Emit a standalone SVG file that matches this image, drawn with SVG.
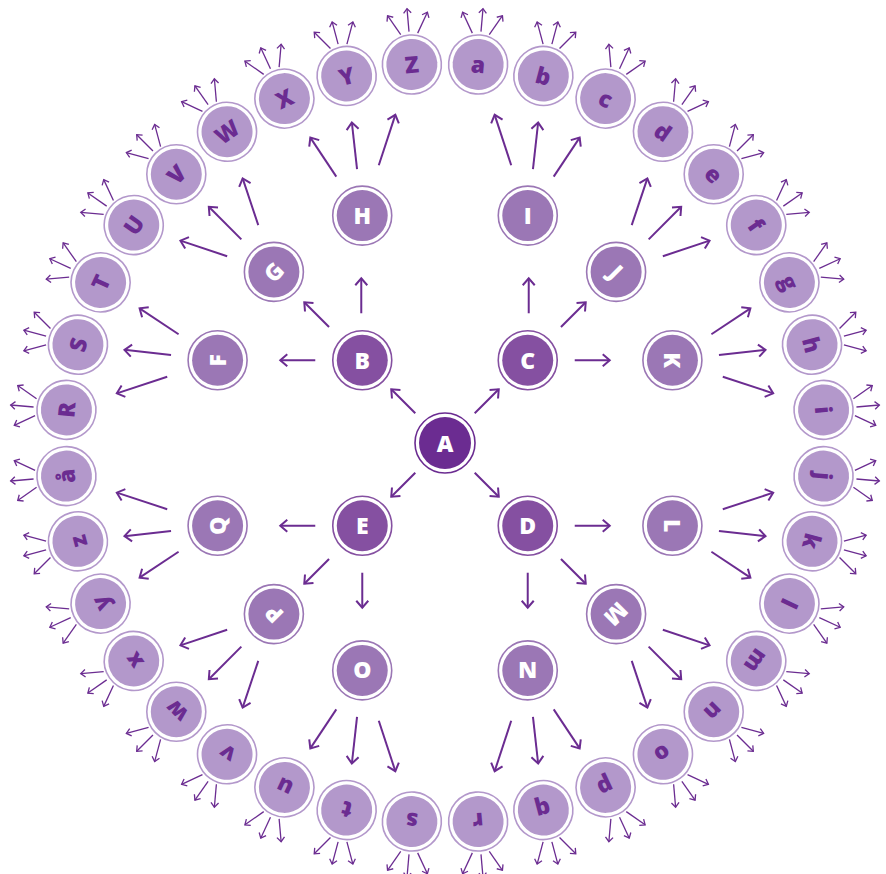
<svg xmlns="http://www.w3.org/2000/svg" xmlns:xlink="http://www.w3.org/1999/xlink" width="886" height="874" viewBox="0 0 886 874">
<style>
.ring{fill:#fff;stroke-width:1.6}
.n0 .ring{stroke:#6b2c91}.n0 .core{fill:#6b2c91}
.n1 .ring{stroke:#8550a1}.n1 .core{fill:#8550a1}
.n2 .ring{stroke:#9b77b5}.n2 .core{fill:#9b77b5}
.n3 .ring{stroke:#b398cb}.n3 .core{fill:#b398cb}
text{font-family:"Open Sans","Liberation Sans",sans-serif;font-weight:800;font-size:23px;text-anchor:middle;fill:#fff}
.n3 text{fill:#6b2c91}
.e{stroke:#6b2c91;stroke-width:2;fill:none;marker-end:url(#ah)}
.s{stroke:#6b2c91;stroke-width:1.3;fill:none;marker-end:url(#ahs)}
</style>
<defs>
<marker id="ah" markerUnits="userSpaceOnUse" viewBox="-10 -8 13 16" markerWidth="13" markerHeight="16" refX="0" refY="0" orient="auto" style="overflow:visible"><path d="M-7,-6 L0,0 L-7,6" fill="none" stroke="#6b2c91" stroke-width="2"/></marker>
<marker id="ahs" markerUnits="userSpaceOnUse" viewBox="-6 -5 8 10" markerWidth="8" markerHeight="10" refX="0" refY="0" orient="auto" style="overflow:visible"><path d="M-4.5,-3.8 L0,0 L-4.5,3.8" fill="none" stroke="#6b2c91" stroke-width="1.3"/></marker>
<g id="fan"><line class="s" x1="33" y1="0" x2="56" y2="0"/><line class="s" x1="30.72" y1="-8.5" x2="50.64" y2="-20"/><line class="s" x1="30.72" y1="8.5" x2="50.64" y2="20"/></g>
</defs>
<g id="connectors">
<line class="e" x1="415.30" y1="413.30" x2="391.26" y2="389.26"/>
<line class="e" x1="474.70" y1="413.30" x2="498.74" y2="389.26"/>
<line class="e" x1="474.70" y1="472.70" x2="498.74" y2="496.74"/>
<line class="e" x1="415.30" y1="472.70" x2="391.26" y2="496.74"/>
<line class="e" x1="361.27" y1="313.27" x2="361.27" y2="278.27"/>
<line class="e" x1="329.04" y1="327.04" x2="304.29" y2="302.29"/>
<line class="e" x1="315.27" y1="360.27" x2="280.27" y2="360.27"/>
<line class="e" x1="528.73" y1="313.27" x2="528.73" y2="278.27"/>
<line class="e" x1="560.96" y1="327.04" x2="585.71" y2="302.29"/>
<line class="e" x1="574.73" y1="360.27" x2="609.73" y2="360.27"/>
<line class="e" x1="574.73" y1="525.73" x2="609.73" y2="525.73"/>
<line class="e" x1="560.96" y1="558.96" x2="585.71" y2="583.71"/>
<line class="e" x1="527.73" y1="572.73" x2="527.73" y2="607.73"/>
<line class="e" x1="362.27" y1="572.73" x2="362.27" y2="607.73"/>
<line class="e" x1="329.04" y1="558.96" x2="304.29" y2="583.71"/>
<line class="e" x1="315.27" y1="525.73" x2="280.27" y2="525.73"/>
<line class="e" x1="711.41" y1="334.29" x2="750.40" y2="308.34"/>
<line class="e" x1="718.96" y1="355.04" x2="765.51" y2="349.84"/>
<line class="e" x1="722.79" y1="376.78" x2="773.17" y2="393.33"/>
<line class="e" x1="631.73" y1="225.16" x2="647.35" y2="178.44"/>
<line class="e" x1="648.65" y1="239.35" x2="681.18" y2="206.82"/>
<line class="e" x1="662.84" y1="256.27" x2="709.56" y2="240.66"/>
<line class="e" x1="511.22" y1="165.21" x2="494.67" y2="114.83"/>
<line class="e" x1="532.96" y1="169.04" x2="538.15" y2="122.49"/>
<line class="e" x1="553.71" y1="176.59" x2="579.65" y2="137.59"/>
<line class="e" x1="336.29" y1="176.59" x2="310.35" y2="137.59"/>
<line class="e" x1="357.04" y1="169.04" x2="351.85" y2="122.49"/>
<line class="e" x1="378.78" y1="165.21" x2="395.33" y2="114.83"/>
<line class="e" x1="227.16" y1="256.27" x2="180.44" y2="240.66"/>
<line class="e" x1="241.35" y1="239.35" x2="208.82" y2="206.82"/>
<line class="e" x1="258.27" y1="225.16" x2="242.66" y2="178.44"/>
<line class="e" x1="167.21" y1="376.78" x2="116.83" y2="393.33"/>
<line class="e" x1="171.04" y1="355.04" x2="124.49" y2="349.84"/>
<line class="e" x1="178.59" y1="334.29" x2="139.60" y2="308.34"/>
<line class="e" x1="722.79" y1="509.22" x2="773.17" y2="492.67"/>
<line class="e" x1="718.96" y1="530.96" x2="765.51" y2="536.16"/>
<line class="e" x1="711.41" y1="551.71" x2="750.40" y2="577.66"/>
<line class="e" x1="662.84" y1="629.73" x2="709.56" y2="645.35"/>
<line class="e" x1="648.65" y1="646.65" x2="681.18" y2="679.18"/>
<line class="e" x1="631.73" y1="660.84" x2="647.35" y2="707.56"/>
<line class="e" x1="553.71" y1="709.41" x2="579.65" y2="748.41"/>
<line class="e" x1="532.96" y1="716.96" x2="538.15" y2="763.51"/>
<line class="e" x1="511.22" y1="720.79" x2="494.67" y2="771.17"/>
<line class="e" x1="378.78" y1="720.79" x2="395.33" y2="771.17"/>
<line class="e" x1="357.04" y1="716.96" x2="351.85" y2="763.51"/>
<line class="e" x1="336.29" y1="709.41" x2="310.35" y2="748.41"/>
<line class="e" x1="258.27" y1="660.84" x2="242.66" y2="707.56"/>
<line class="e" x1="241.35" y1="646.65" x2="208.82" y2="679.18"/>
<line class="e" x1="227.16" y1="629.73" x2="180.44" y2="645.35"/>
<line class="e" x1="178.59" y1="551.71" x2="139.60" y2="577.66"/>
<line class="e" x1="171.04" y1="530.96" x2="124.49" y2="536.16"/>
<line class="e" x1="167.21" y1="509.22" x2="116.83" y2="492.67"/>
<use href="#fan" transform="translate(445 443) rotate(-175) translate(380 0)"/>
<use href="#fan" transform="translate(445 443) rotate(-165) translate(380 0)"/>
<use href="#fan" transform="translate(445 443) rotate(-155) translate(380 0)"/>
<use href="#fan" transform="translate(445 443) rotate(-145) translate(380 0)"/>
<use href="#fan" transform="translate(445 443) rotate(-135) translate(380 0)"/>
<use href="#fan" transform="translate(445 443) rotate(-125) translate(380 0)"/>
<use href="#fan" transform="translate(445 443) rotate(-115) translate(380 0)"/>
<use href="#fan" transform="translate(445 443) rotate(-105) translate(380 0)"/>
<use href="#fan" transform="translate(445 443) rotate(-95) translate(380 0)"/>
<use href="#fan" transform="translate(445 443) rotate(-85) translate(380 0)"/>
<use href="#fan" transform="translate(445 443) rotate(-75) translate(380 0)"/>
<use href="#fan" transform="translate(445 443) rotate(-65) translate(380 0)"/>
<use href="#fan" transform="translate(445 443) rotate(-55) translate(380 0)"/>
<use href="#fan" transform="translate(445 443) rotate(-45) translate(380 0)"/>
<use href="#fan" transform="translate(445 443) rotate(-35) translate(380 0)"/>
<use href="#fan" transform="translate(445 443) rotate(-25) translate(380 0)"/>
<use href="#fan" transform="translate(445 443) rotate(-15) translate(380 0)"/>
<use href="#fan" transform="translate(445 443) rotate(-5) translate(380 0)"/>
<use href="#fan" transform="translate(445 443) rotate(5) translate(380 0)"/>
<use href="#fan" transform="translate(445 443) rotate(15) translate(380 0)"/>
<use href="#fan" transform="translate(445 443) rotate(25) translate(380 0)"/>
<use href="#fan" transform="translate(445 443) rotate(35) translate(380 0)"/>
<use href="#fan" transform="translate(445 443) rotate(45) translate(380 0)"/>
<use href="#fan" transform="translate(445 443) rotate(55) translate(380 0)"/>
<use href="#fan" transform="translate(445 443) rotate(65) translate(380 0)"/>
<use href="#fan" transform="translate(445 443) rotate(75) translate(380 0)"/>
<use href="#fan" transform="translate(445 443) rotate(85) translate(380 0)"/>
<use href="#fan" transform="translate(445 443) rotate(95) translate(380 0)"/>
<use href="#fan" transform="translate(445 443) rotate(105) translate(380 0)"/>
<use href="#fan" transform="translate(445 443) rotate(115) translate(380 0)"/>
<use href="#fan" transform="translate(445 443) rotate(125) translate(380 0)"/>
<use href="#fan" transform="translate(445 443) rotate(135) translate(380 0)"/>
<use href="#fan" transform="translate(445 443) rotate(145) translate(380 0)"/>
<use href="#fan" transform="translate(445 443) rotate(155) translate(380 0)"/>
<use href="#fan" transform="translate(445 443) rotate(165) translate(380 0)"/>
<use href="#fan" transform="translate(445 443) rotate(175) translate(380 0)"/>
</g>
<g id="node-A" class="n0" transform="translate(445 443)"><circle class="ring" r="30"/><circle class="core" r="26"/><text y="8.5">A</text></g>
<g id="node-B" class="n1" transform="translate(362.27 360.27)"><circle class="ring" r="29.5"/><circle class="core" r="25.5"/><text y="8.5">B</text></g>
<g id="node-C" class="n1" transform="translate(527.73 360.27)"><circle class="ring" r="29.5"/><circle class="core" r="25.5"/><text y="8.5">C</text></g>
<g id="node-D" class="n1" transform="translate(527.73 525.73)"><circle class="ring" r="29.5"/><circle class="core" r="25.5"/><text y="8.5">D</text></g>
<g id="node-E" class="n1" transform="translate(362.27 525.73)"><circle class="ring" r="29.5"/><circle class="core" r="25.5"/><text y="8.5">E</text></g>
<g id="node-H" class="n2" transform="translate(362.23 215.59)"><circle class="ring" r="29.5"/><circle class="core" r="25.5"/><text y="8.5">H</text></g>
<g id="node-G" class="n2" transform="translate(273.88 271.88) rotate(-45)"><circle class="ring" r="29.5"/><circle class="core" r="25.5"/><text y="8.5">G</text></g>
<g id="node-F" class="n2" transform="translate(217.59 360.23) rotate(-90)"><circle class="ring" r="29.5"/><circle class="core" r="25.5"/><text y="8.5">F</text></g>
<g id="node-I" class="n2" transform="translate(527.77 215.59)"><circle class="ring" r="29.5"/><circle class="core" r="25.5"/><text y="8.5">I</text></g>
<g id="node-J" class="n2" transform="translate(616.12 271.88) rotate(45)"><circle class="ring" r="29.5"/><circle class="core" r="25.5"/><text y="8.5">J</text></g>
<g id="node-K" class="n2" transform="translate(672.41 360.23) rotate(90)"><circle class="ring" r="29.5"/><circle class="core" r="25.5"/><text y="8.5">K</text></g>
<g id="node-L" class="n2" transform="translate(672.41 525.77) rotate(90)"><circle class="ring" r="29.5"/><circle class="core" r="25.5"/><text y="8.5">L</text></g>
<g id="node-M" class="n2" transform="translate(616.12 614.12) rotate(135)"><circle class="ring" r="29.5"/><circle class="core" r="25.5"/><text y="8.5">M</text></g>
<g id="node-N" class="n2" transform="translate(527.77 670.41) rotate(180)"><circle class="ring" r="29.5"/><circle class="core" r="25.5"/><text y="8.5">N</text></g>
<g id="node-O" class="n2" transform="translate(362.23 670.41) rotate(180)"><circle class="ring" r="29.5"/><circle class="core" r="25.5"/><text y="8.5">O</text></g>
<g id="node-P" class="n2" transform="translate(273.88 614.12) rotate(225)"><circle class="ring" r="29.5"/><circle class="core" r="25.5"/><text y="8.5">P</text></g>
<g id="node-Q" class="n2" transform="translate(217.59 525.77) rotate(270)"><circle class="ring" r="29.5"/><circle class="core" r="25.5"/><text y="8.5">Q</text></g>
<g id="node-R" class="n3" transform="translate(445 443) rotate(-175) translate(380 0) rotate(90)"><circle class="ring" r="29.5"/><circle class="core" r="25.5"/><text y="8.5">R</text></g>
<g id="node-S" class="n3" transform="translate(445 443) rotate(-165) translate(380 0) rotate(90)"><circle class="ring" r="29.5"/><circle class="core" r="25.5"/><text y="8.5">S</text></g>
<g id="node-T" class="n3" transform="translate(445 443) rotate(-155) translate(380 0) rotate(90)"><circle class="ring" r="29.5"/><circle class="core" r="25.5"/><text y="8.5">T</text></g>
<g id="node-U" class="n3" transform="translate(445 443) rotate(-145) translate(380 0) rotate(90)"><circle class="ring" r="29.5"/><circle class="core" r="25.5"/><text y="8.5">U</text></g>
<g id="node-V" class="n3" transform="translate(445 443) rotate(-135) translate(380 0) rotate(90)"><circle class="ring" r="29.5"/><circle class="core" r="25.5"/><text y="8.5">V</text></g>
<g id="node-W" class="n3" transform="translate(445 443) rotate(-125) translate(380 0) rotate(90)"><circle class="ring" r="29.5"/><circle class="core" r="25.5"/><text y="8.5">W</text></g>
<g id="node-X" class="n3" transform="translate(445 443) rotate(-115) translate(380 0) rotate(90)"><circle class="ring" r="29.5"/><circle class="core" r="25.5"/><text y="8.5">X</text></g>
<g id="node-Y" class="n3" transform="translate(445 443) rotate(-105) translate(380 0) rotate(90)"><circle class="ring" r="29.5"/><circle class="core" r="25.5"/><text y="8.5">Y</text></g>
<g id="node-Z" class="n3" transform="translate(445 443) rotate(-95) translate(380 0) rotate(90)"><circle class="ring" r="29.5"/><circle class="core" r="25.5"/><text y="8.5">Z</text></g>
<g id="node-a" class="n3" transform="translate(445 443) rotate(-85) translate(380 0) rotate(90)"><circle class="ring" r="29.5"/><circle class="core" r="25.5"/><text y="8.5">a</text></g>
<g id="node-b" class="n3" transform="translate(445 443) rotate(-75) translate(380 0) rotate(90)"><circle class="ring" r="29.5"/><circle class="core" r="25.5"/><text y="8.5">b</text></g>
<g id="node-c" class="n3" transform="translate(445 443) rotate(-65) translate(380 0) rotate(90)"><circle class="ring" r="29.5"/><circle class="core" r="25.5"/><text y="8.5">c</text></g>
<g id="node-d" class="n3" transform="translate(445 443) rotate(-55) translate(380 0) rotate(90)"><circle class="ring" r="29.5"/><circle class="core" r="25.5"/><text y="8.5">d</text></g>
<g id="node-e" class="n3" transform="translate(445 443) rotate(-45) translate(380 0) rotate(90)"><circle class="ring" r="29.5"/><circle class="core" r="25.5"/><text y="8.5">e</text></g>
<g id="node-f" class="n3" transform="translate(445 443) rotate(-35) translate(380 0) rotate(90)"><circle class="ring" r="29.5"/><circle class="core" r="25.5"/><text y="8.5">f</text></g>
<g id="node-g" class="n3" transform="translate(445 443) rotate(-25) translate(380 0) rotate(90)"><circle class="ring" r="29.5"/><circle class="core" r="25.5"/><text y="8.5">g</text></g>
<g id="node-h" class="n3" transform="translate(445 443) rotate(-15) translate(380 0) rotate(90)"><circle class="ring" r="29.5"/><circle class="core" r="25.5"/><text y="8.5">h</text></g>
<g id="node-i" class="n3" transform="translate(445 443) rotate(-5) translate(380 0) rotate(90)"><circle class="ring" r="29.5"/><circle class="core" r="25.5"/><text y="8.5">i</text></g>
<g id="node-j" class="n3" transform="translate(445 443) rotate(5) translate(380 0) rotate(90)"><circle class="ring" r="29.5"/><circle class="core" r="25.5"/><text y="8.5">j</text></g>
<g id="node-k" class="n3" transform="translate(445 443) rotate(15) translate(380 0) rotate(90)"><circle class="ring" r="29.5"/><circle class="core" r="25.5"/><text y="8.5">k</text></g>
<g id="node-l" class="n3" transform="translate(445 443) rotate(25) translate(380 0) rotate(90)"><circle class="ring" r="29.5"/><circle class="core" r="25.5"/><text y="8.5">l</text></g>
<g id="node-m" class="n3" transform="translate(445 443) rotate(35) translate(380 0) rotate(90)"><circle class="ring" r="29.5"/><circle class="core" r="25.5"/><text y="8.5">m</text></g>
<g id="node-n" class="n3" transform="translate(445 443) rotate(45) translate(380 0) rotate(90)"><circle class="ring" r="29.5"/><circle class="core" r="25.5"/><text y="8.5">n</text></g>
<g id="node-o" class="n3" transform="translate(445 443) rotate(55) translate(380 0) rotate(90)"><circle class="ring" r="29.5"/><circle class="core" r="25.5"/><text y="8.5">o</text></g>
<g id="node-p" class="n3" transform="translate(445 443) rotate(65) translate(380 0) rotate(90)"><circle class="ring" r="29.5"/><circle class="core" r="25.5"/><text y="8.5">p</text></g>
<g id="node-q" class="n3" transform="translate(445 443) rotate(75) translate(380 0) rotate(90)"><circle class="ring" r="29.5"/><circle class="core" r="25.5"/><text y="8.5">q</text></g>
<g id="node-r" class="n3" transform="translate(445 443) rotate(85) translate(380 0) rotate(90)"><circle class="ring" r="29.5"/><circle class="core" r="25.5"/><text y="8.5">r</text></g>
<g id="node-s" class="n3" transform="translate(445 443) rotate(95) translate(380 0) rotate(90)"><circle class="ring" r="29.5"/><circle class="core" r="25.5"/><text y="8.5">s</text></g>
<g id="node-t" class="n3" transform="translate(445 443) rotate(105) translate(380 0) rotate(90)"><circle class="ring" r="29.5"/><circle class="core" r="25.5"/><text y="8.5">t</text></g>
<g id="node-u" class="n3" transform="translate(445 443) rotate(115) translate(380 0) rotate(90)"><circle class="ring" r="29.5"/><circle class="core" r="25.5"/><text y="8.5">u</text></g>
<g id="node-v" class="n3" transform="translate(445 443) rotate(125) translate(380 0) rotate(90)"><circle class="ring" r="29.5"/><circle class="core" r="25.5"/><text y="8.5">v</text></g>
<g id="node-w" class="n3" transform="translate(445 443) rotate(135) translate(380 0) rotate(90)"><circle class="ring" r="29.5"/><circle class="core" r="25.5"/><text y="8.5">w</text></g>
<g id="node-x" class="n3" transform="translate(445 443) rotate(145) translate(380 0) rotate(90)"><circle class="ring" r="29.5"/><circle class="core" r="25.5"/><text y="8.5">x</text></g>
<g id="node-y" class="n3" transform="translate(445 443) rotate(155) translate(380 0) rotate(90)"><circle class="ring" r="29.5"/><circle class="core" r="25.5"/><text y="8.5">y</text></g>
<g id="node-z" class="n3" transform="translate(445 443) rotate(165) translate(380 0) rotate(90)"><circle class="ring" r="29.5"/><circle class="core" r="25.5"/><text y="8.5">z</text></g>
<g id="node-å" class="n3" transform="translate(445 443) rotate(175) translate(380 0) rotate(90)"><circle class="ring" r="29.5"/><circle class="core" r="25.5"/><text y="8.5">å</text></g>
</svg>
